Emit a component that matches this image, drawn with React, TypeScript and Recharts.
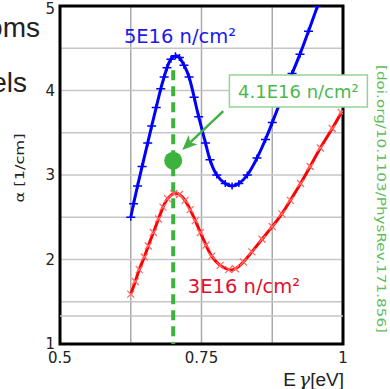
import React from "react";
import {
  LineChart,
  Line,
  XAxis,
  YAxis,
  CartesianGrid,
  ReferenceLine,
  ReferenceDot,
  ReferenceArea,
} from "recharts";

// photon energy [eV] and absorption [1/cm]
const energy5E16 = [
  0.625, 0.63, 0.637, 0.645, 0.655, 0.662, 0.67, 0.678, 0.684, 0.689, 0.696,
  0.704, 0.711, 0.719, 0.728, 0.737, 0.745, 0.757, 0.765, 0.777, 0.792, 0.804,
  0.816, 0.831, 0.848, 0.863, 0.875, 0.889, 0.91, 0.924, 0.939, 0.955, 0.965,
];
const alpha5E16 = [
  2.5, 2.66, 2.87, 3.1, 3.38, 3.58, 3.8, 4.02, 4.16, 4.27, 4.37, 4.41, 4.39,
  4.3, 4.16, 3.92, 3.69, 3.38, 3.18, 3.0, 2.9, 2.87, 2.9, 3.0, 3.2, 3.42, 3.62,
  3.86, 4.2, 4.43, 4.7, 5.0, 5.19,
];

const energy3E16 = [
  0.625, 0.633, 0.64, 0.649, 0.656, 0.665, 0.674, 0.682, 0.69, 0.701, 0.711,
  0.721, 0.73, 0.739, 0.748, 0.758, 0.768, 0.783, 0.798, 0.81, 0.824, 0.839,
  0.857, 0.875, 0.892, 0.907, 0.925, 0.942, 0.96, 0.981, 0.997,
];
const alpha3E16 = [
  1.59, 1.74, 1.88, 2.03, 2.16, 2.32, 2.48, 2.62, 2.72, 2.78, 2.77, 2.7, 2.59,
  2.46, 2.32, 2.17, 2.04, 1.93, 1.88, 1.89, 1.97, 2.09, 2.24, 2.39, 2.54, 2.7,
  2.9, 3.1, 3.32, 3.55, 3.74,
];

const xTicks = [0.5, 0.625, 0.75, 0.875, 1];
const xLabels = ["0.5", "", "0.75", "", "1"];
const yTicks = [1, 1.5, 2, 2.5, 3, 3.5, 4, 4.5, 5];
const yLabels = ["1", "", "2", "", "3", "", "4", "", "5"];

// 4.1E16 point and its guide line
const markE = 0.7;
const markAlpha = 3.17;
const markTop = 4.24;

const data5 = energy5E16.map((e, i) => ({ e, a: alpha5E16[i] }));
const data3 = energy3E16.map((e, i) => ({ e, a: alpha3E16[i] }));

const BLUE = "#0000ff";
const RED = "#ff0000";
const GREEN = "#3db33d";
const tickFont = { fontFamily: "DejaVu Sans", fontSize: 15, fill: "#222" };

const PlusDot = (p: any) => {
  const { cx, cy } = p;
  if (cx == null || cy == null) return null;
  return (
    <path
      d={`M${cx - 4.5},${cy}H${cx + 4.5}M${cx},${cy - 3.5}V${cy + 3.5}`}
      stroke={BLUE}
      strokeWidth={1.5}
      fill="none"
    />
  );
};

const CrossDot = (p: any) => {
  const { cx, cy } = p;
  if (cx == null || cy == null) return null;
  const s = 3.5;
  return (
    <path
      d={`M${cx - s},${cy - s}L${cx + s},${cy + s}M${cx - s},${cy + s}L${cx + s},${cy - s}`}
      stroke="#ff6a6a"
      strokeWidth={1.3}
      fill="none"
    />
  );
};

const textLabel = (txt: string, color: string, size: number) => (p: any) =>
  (
    <text
      x={p.cx}
      y={p.cy}
      textAnchor="middle"
      dominantBaseline="central"
      fontFamily="DejaVu Sans"
      fontSize={size}
      fill={color}
    >
      {txt}
    </text>
  );

const BoxLabel = (p: any) => (
  <g>
    <rect
      x={p.cx - 69}
      y={p.cy - 16}
      width={138}
      height={32}
      fill="#fff"
      stroke="#94d494"
      strokeWidth={1.5}
    />
    <text
      x={p.cx}
      y={p.cy}
      textAnchor="middle"
      dominantBaseline="central"
      fontFamily="DejaVu Sans"
      fontSize={18}
      fill="#4cb84c"
    >
      4.1E16 n/cm²
    </text>
  </g>
);

const Arrow = (p: any) => {
  const { x1, y1, x2, y2 } = p;
  const dx = x2 - x1;
  const dy = y2 - y1;
  const len = Math.sqrt(dx * dx + dy * dy);
  const ux = dx / len;
  const uy = dy / len;
  const hl = 15;
  const hw = 6.5;
  const bx = x2 - ux * hl;
  const by = y2 - uy * hl;
  const nx = x2 - ux * (hl - 4);
  const ny = y2 - uy * (hl - 4);
  return (
    <g>
      <line x1={x1} y1={y1} x2={nx} y2={ny} stroke="#44b044" strokeWidth={2.5} />
      <path
        d={`M${x2},${y2}L${bx - uy * hw},${by + ux * hw}L${nx},${ny}L${bx + uy * hw},${by - ux * hw}Z`}
        fill="#44b044"
      />
    </g>
  );
};

export default function App() {
  return (
    <div style={{ position: "absolute", left: 0, top: 0, width: 390, height: 389 }}>
      <LineChart
        width={390}
        height={389}
        margin={{ top: 6, right: 47, left: 0, bottom: 0 }}
      >
        <CartesianGrid horizontal={false} stroke="#aaa" strokeWidth={1.5} />
        <CartesianGrid vertical={false} stroke="#c6c6c6" strokeWidth={1.5} />
        <ReferenceLine y={1.33} stroke="#c6c6c6" strokeWidth={1.5} />
        <XAxis
          dataKey="e"
          type="number"
          domain={[0.5, 1]}
          ticks={xTicks}
          tickFormatter={(v: number) => xLabels[xTicks.indexOf(v)] ?? ""}
          axisLine={false}
          tickLine={false}
          height={45}
          tick={tickFont}
          allowDataOverflow
        />
        <YAxis
          type="number"
          domain={[1, 5]}
          ticks={yTicks}
          tickFormatter={(v: number) => yLabels[yTicks.indexOf(v)] ?? ""}
          axisLine={false}
          tickLine={false}
          tickSize={3}
          tickMargin={2}
          width={60}
          tick={tickFont}
          allowDataOverflow
        />
        <Line
          data={data3}
          dataKey="a"
          type="natural"
          stroke={RED}
          strokeWidth={3}
          dot={<CrossDot />}
          isAnimationActive={false}
        />
        <Line
          data={data5}
          dataKey="a"
          type="natural"
          stroke={BLUE}
          strokeWidth={3}
          dot={<PlusDot />}
          isAnimationActive={false}
        />
        <ReferenceLine
          segment={[
            { x: markE, y: markTop },
            { x: markE, y: 1 },
          ]}
          stroke={GREEN}
          strokeWidth={4}
          strokeDasharray="10 6"
        />
        <ReferenceDot x={markE} y={markAlpha} r={9} fill={GREEN} stroke="none" />
        <ReferenceLine
          segment={[
            { x: 0.7885, y: 3.757 },
            { x: 0.716, y: 3.296 },
          ]}
          shape={Arrow}
        />
        <ReferenceDot x={0.712} y={4.64} r={0} shape={textLabel("5E16 n/cm²", "#1a1aee", 19.5)} />
        <ReferenceDot x={0.825} y={1.68} r={0} shape={textLabel("3E16 n/cm²", "#e0102f", 19.5)} />
        <ReferenceArea
          x1={0.5}
          x2={1}
          y1={1}
          y2={5}
          fill="none"
          fillOpacity={0}
          stroke="#000"
          strokeWidth={3}
        />
        <ReferenceDot x={0.9212} y={3.994} r={0} shape={BoxLabel} />
      </LineChart>
      <svg
        width={390}
        height={389}
        style={{ position: "absolute", left: 0, top: 0, pointerEvents: "none" }}
      >
        <text x={40} y={37} textAnchor="end" fontFamily="Liberation Sans" fontSize={28} fill="#222">
          oms
        </text>
        <text x={27} y={92} textAnchor="end" fontFamily="Liberation Sans" fontSize={28} fill="#222">
          els
        </text>
        <text
          transform="translate(19,168) rotate(-90)"
          textAnchor="middle"
          dominantBaseline="central"
          fontFamily="DejaVu Sans"
          fontSize={13}
          textLength={69}
          lengthAdjust="spacingAndGlyphs"
          fill="#222"
        >
          α [1/cm]
        </text>
        <text x={344} y={386} textAnchor="end" fontFamily="Liberation Sans" fontSize={19} fill="#222">
          E
          <tspan dx={3} fontFamily="DejaVu Serif" fontStyle="italic">
            γ
          </tspan>
          [eV]
        </text>
        <text
          transform="translate(381,199) rotate(90)"
          textAnchor="middle"
          dominantBaseline="central"
          fontFamily="DejaVu Sans"
          fontSize={13}
          textLength={268}
          lengthAdjust="spacingAndGlyphs"
          fill="#5cbd5c"
        >
          [doi.org/10.1103/PhysRev.171.856]
        </text>
      </svg>
    </div>
  );
}
